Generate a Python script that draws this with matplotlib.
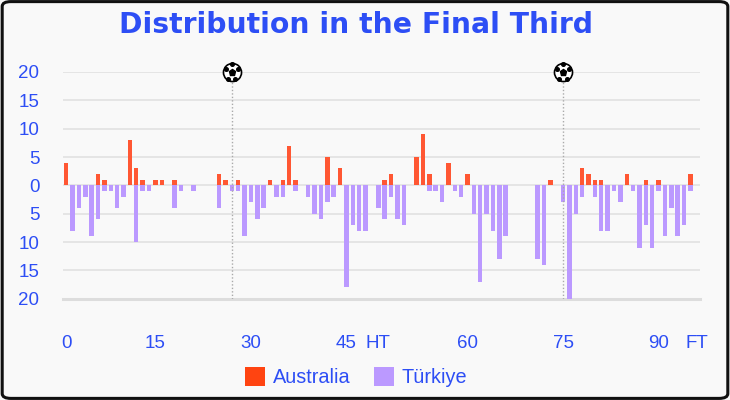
import numpy as np
import matplotlib.pyplot as plt
from matplotlib.patches import FancyBboxPatch, Patch

plt.rcParams['font.family'] = ['Liberation Sans', 'DejaVu Sans']

# minute-by-minute counts in the final third (100 slots, stoppage time included)
australia = [4, 0, 0, 0, 0, 2, 1, 0, 0, 0,
             8, 3, 1, 0, 1, 1, 0, 1, 0, 0,
             0, 0, 0, 0, 2, 1, 0, 1, 0, 0,
             0, 0, 1, 0, 1, 7, 1, 0, 0, 0,
             0, 5, 0, 3, 0, 0, 0, 0, 0, 0,
             1, 2, 0, 0, 0, 5, 9, 2, 0, 0,
             4, 0, 0, 2, 0, 0, 0, 0, 0, 0,
             0, 0, 0, 0, 0, 0, 1, 0, 0, 0,
             0, 3, 2, 1, 1, 0, 0, 0, 2, 0,
             0, 1, 0, 1, 0, 0, 0, 0, 2, 0]
turkiye = [0, 8, 4, 2, 9, 6, 1, 1, 4, 2,
           0, 10, 1, 1, 0, 0, 0, 4, 1, 0,
           1, 0, 0, 0, 4, 0, 1, 1, 9, 3,
           6, 4, 0, 2, 2, 0, 1, 0, 2, 5,
           6, 3, 2, 0, 18, 7, 8, 8, 0, 4,
           6, 2, 6, 7, 0, 0, 0, 1, 1, 3,
           0, 1, 2, 0, 5, 17, 5, 8, 13, 9,
           0, 0, 0, 0, 13, 14, 0, 0, 3, 20,
           5, 2, 0, 2, 8, 8, 1, 3, 0, 1,
           11, 7, 11, 1, 9, 4, 9, 7, 1, 0]
goal_slots = [26, 78]
tick_slots = [0, 14, 29, 44, 49, 63, 78, 93, 99]
tick_labels = ['0', '15', '30', '45', 'HT', '60', '75', '90', 'FT']
y_ticks = [-20, -15, -10, -5, 0, 5, 10, 15, 20]

red = '#ff5733'
purple = '#bb99ff'
blue = '#2d4ef5'
bg = '#f9f9f9'

fig = plt.figure(figsize=(7.3, 4.0), dpi=100, facecolor=bg)
ax = fig.add_axes([63/730, 1 - 298.7/400, 637/730, (298.7 - 72)/400])
ax.set_facecolor(bg)

x = np.arange(len(australia))
ax.bar(x, australia, width=0.7, color=red, zorder=3)
ax.bar(x, -np.array(turkiye), width=0.7, color=purple, zorder=3)

ax.set_xlim(-0.5, len(australia) - 0.5)
ax.set_ylim(-20, 20)
ax.set_yticks(y_ticks)
ax.set_yticklabels([str(abs(v)) for v in y_ticks])
ax.set_xticks(tick_slots)
ax.set_xticklabels(tick_labels)
ax.tick_params(axis='y', length=0, pad=17, labelsize=13.5, labelcolor=blue)
ax.tick_params(axis='x', length=0, pad=26, labelsize=13.5, labelcolor=blue)
for s in ['top', 'right', 'left']:
    ax.spines[s].set_visible(False)
ax.spines['bottom'].set_color('#dddddd')
ax.spines['bottom'].set_linewidth(2.2)
ax.spines['bottom'].set_zorder(2)
ax.yaxis.grid(True, color='#e3e3e3', linewidth=1.3, zorder=1)
ax.set_axisbelow(True)

# goals: dotted line with a ball on top
for g in goal_slots:
    ax.plot([g, g], [-20, 18.2], color='#aaaaaa', linestyle=(0, (1, 1.5)),
            linewidth=1, zorder=4)
    ax.plot(g, 20, marker='o', markersize=13, markerfacecolor='white',
            markeredgecolor='black', markeredgewidth=1.2, clip_on=False, zorder=6)
    ax.plot(g, 20, marker='p', markersize=5, color='black', clip_on=False, zorder=7)
    for ang in [90, 162, 234, 306, 18]:
        dx = np.cos(np.radians(ang)) * 0.95
        dy = np.sin(np.radians(ang)) * 1.45
        ax.plot(g + dx, 20 + dy, marker='o', markersize=2.6, color='black',
                clip_on=False, zorder=7)

fig.text(0.488, 1 - 25/400, 'Distribution in the Final Third', ha='center', va='center',
         fontsize=20.3, fontweight='bold', color=blue, family='DejaVu Sans')

handles = [Patch(facecolor='#ff4411', label='Australia'),
           Patch(facecolor=purple, label='Türkiye')]
leg = fig.legend(handles=handles, loc='center', bbox_to_anchor=(0.488, 0.0575), ncol=2,
                 frameon=False, fontsize=14.3, handlelength=1.0, handleheight=1.1,
                 handletextpad=0.4, columnspacing=1.2)
for t in leg.get_texts():
    t.set_color(blue)

border = FancyBboxPatch((0.003, 0.004), 0.994, 0.992, boxstyle='round,pad=0,rounding_size=0.012',
                        transform=fig.transFigure, facecolor='none', edgecolor='#111111',
                        linewidth=2.2, zorder=10)
fig.patches.append(border)

fig.savefig('out.png', dpi=100, facecolor=bg)
